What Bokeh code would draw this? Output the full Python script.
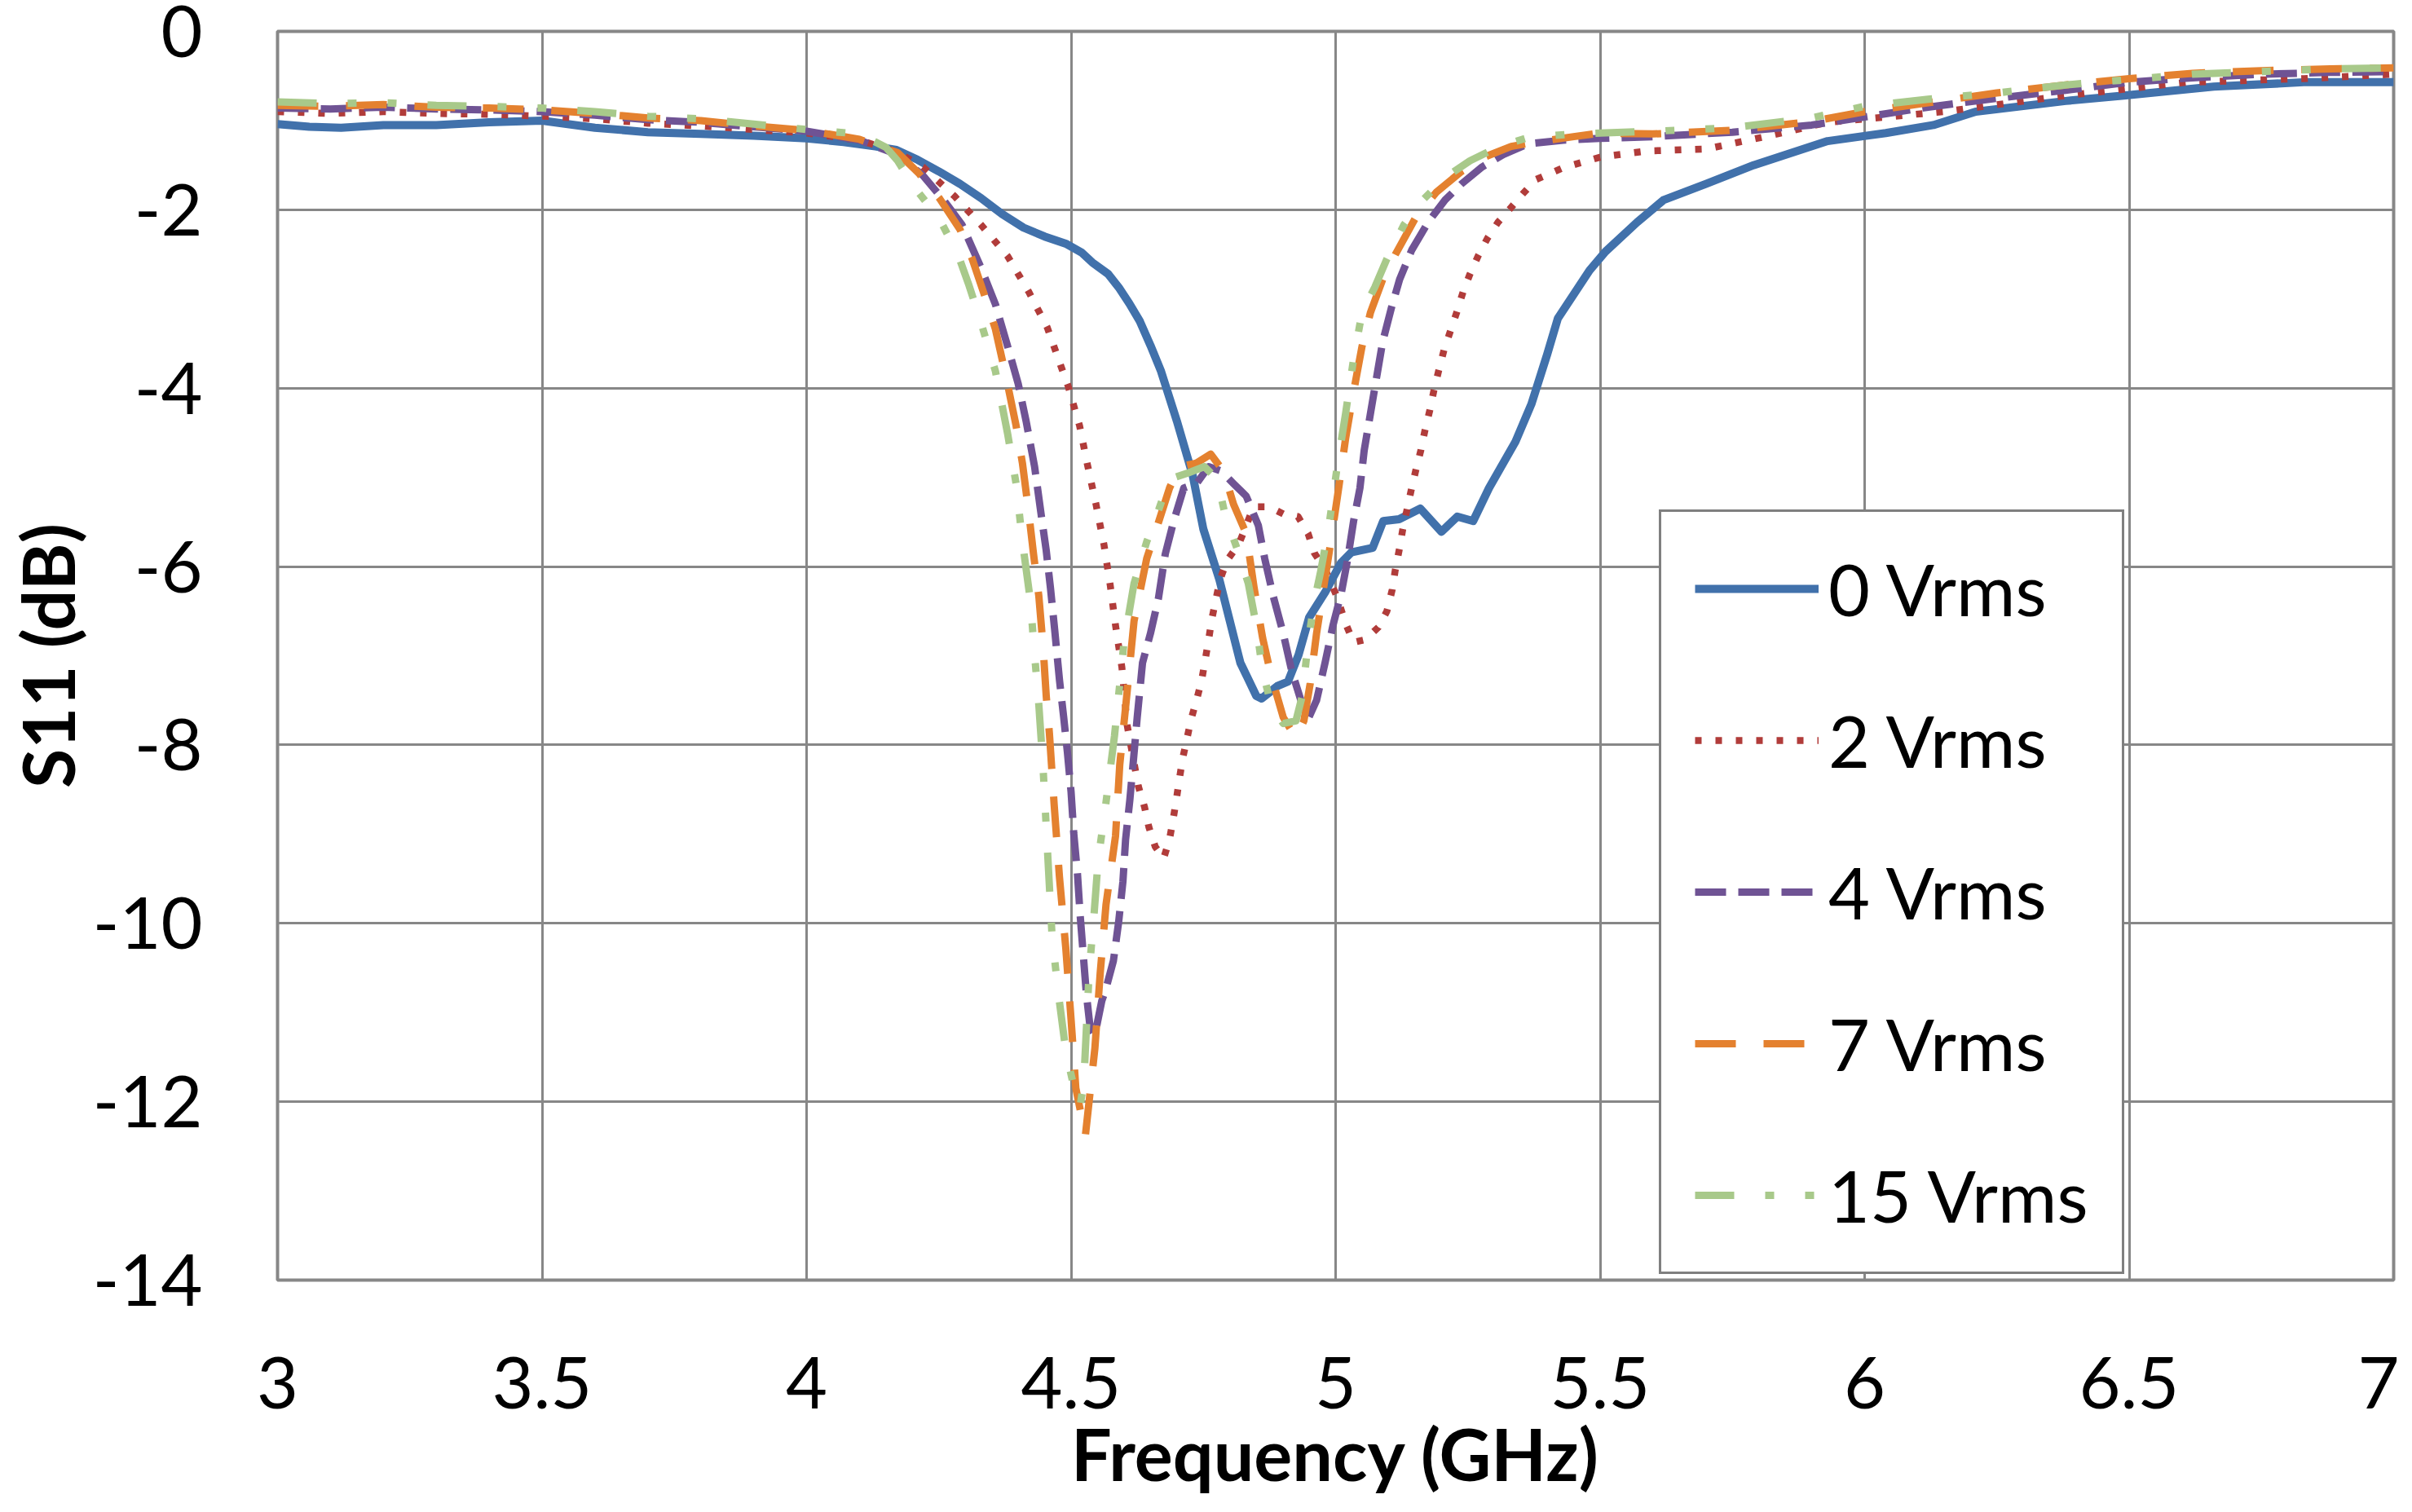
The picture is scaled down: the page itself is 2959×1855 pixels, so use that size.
from bokeh.plotting import figure
from bokeh.models import FixedTicker, Legend, LegendItem
from bokeh.embed import file_html
from bokeh.resources import INLINE

# ---------------- data ----------------
freq_0v = [3.00, 3.06, 3.12, 3.20, 3.30, 3.40, 3.50, 3.60, 3.70, 3.80, 3.90, 4.00,
           4.07, 4.13, 4.17, 4.21, 4.25, 4.29, 4.33, 4.37, 4.41, 4.45, 4.49, 4.52,
           4.54, 4.57, 4.59, 4.61, 4.63, 4.65, 4.67, 4.70, 4.73, 4.75, 4.78, 4.80,
           4.82, 4.85, 4.86, 4.89, 4.91, 4.93, 4.95, 4.98, 5.01, 5.03, 5.07, 5.09,
           5.12, 5.16, 5.20, 5.23, 5.26, 5.29, 5.34, 5.37, 5.40, 5.42, 5.48, 5.51,
           5.57, 5.62, 5.70, 5.79, 5.93, 6.04, 6.13, 6.21, 6.38, 6.49, 6.66, 6.83, 7.00]
s11_0v = [-1.04, -1.07, -1.08, -1.05, -1.05, -1.02, -1.00, -1.08, -1.13, -1.15, -1.17, -1.20,
          -1.24, -1.29, -1.33, -1.44, -1.57, -1.71, -1.87, -2.05, -2.20, -2.30, -2.38, -2.48,
          -2.59, -2.72, -2.87, -3.05, -3.25, -3.52, -3.81, -4.37, -4.98, -5.58, -6.14, -6.61,
          -7.08, -7.45, -7.48, -7.34, -7.29, -6.99, -6.57, -6.29, -5.96, -5.84, -5.79, -5.49,
          -5.47, -5.35, -5.61, -5.44, -5.49, -5.12, -4.60, -4.18, -3.62, -3.22, -2.68, -2.47,
          -2.14, -1.89, -1.71, -1.50, -1.23, -1.14, -1.05, -0.90, -0.78, -0.72, -0.62, -0.57, -0.57]

freq_2v = [3.00, 3.10, 3.20, 3.30, 3.40, 3.50, 3.60, 3.70, 3.80, 3.90, 4.00, 4.10,
           4.17, 4.22, 4.28, 4.33, 4.38, 4.42, 4.455, 4.48, 4.494, 4.516, 4.531, 4.547,
           4.562, 4.574, 4.584, 4.596, 4.606, 4.627, 4.639, 4.647, 4.659, 4.675, 4.686, 4.693,
           4.699, 4.705, 4.711, 4.727, 4.738, 4.747, 4.754, 4.760, 4.766, 4.774, 4.782, 4.795,
           4.817, 4.845, 4.874, 4.901, 4.929, 4.948, 4.960, 4.980, 5.002, 5.019, 5.034, 5.056,
           5.081, 5.097, 5.107, 5.113, 5.121, 5.127, 5.143, 5.152, 5.161, 5.169, 5.178, 5.186,
           5.195, 5.205, 5.217, 5.229, 5.241, 5.254, 5.270, 5.287, 5.307, 5.331, 5.354, 5.379,
           5.43, 5.50, 5.59, 5.70, 5.82, 5.93, 6.04, 6.15, 6.38, 6.61, 6.83, 7.00]
s11_2v = [-0.90, -0.92, -0.90, -0.92, -0.93, -0.95, -0.98, -1.03, -1.06, -1.10, -1.14, -1.22,
          -1.35, -1.52, -1.85, -2.17, -2.52, -2.92, -3.32, -3.74, -3.97, -4.42, -4.86, -5.30,
          -5.75, -6.21, -6.66, -7.13, -7.78, -8.46, -8.70, -8.92, -9.14, -9.27, -9.06, -8.83,
          -8.61, -8.37, -8.15, -7.71, -7.48, -7.27, -7.03, -6.82, -6.59, -6.36, -6.14, -5.93,
          -5.75, -5.33, -5.33, -5.41, -5.44, -5.63, -5.85, -6.03, -6.33, -6.64, -6.85, -6.82,
          -6.68, -6.50, -6.26, -6.03, -5.79, -5.58, -5.14, -4.91, -4.70, -4.47, -4.25, -4.02,
          -3.80, -3.57, -3.36, -3.15, -2.92, -2.72, -2.51, -2.32, -2.14, -1.98, -1.82, -1.66,
          -1.53, -1.41, -1.34, -1.32, -1.17, -1.02, -0.96, -0.90, -0.72, -0.57, -0.53, -0.48]

freq_4v = [3.00, 3.10, 3.20, 3.30, 3.40, 3.50, 3.60, 3.70, 3.80, 3.90, 4.00, 4.10,
           4.172, 4.219, 4.259, 4.294, 4.329, 4.357, 4.380, 4.400, 4.415, 4.431, 4.443, 4.453,
           4.461, 4.469, 4.478, 4.486, 4.493, 4.500, 4.505, 4.512, 4.517, 4.523, 4.529, 4.536,
           4.545, 4.558, 4.566, 4.580, 4.590, 4.598, 4.603, 4.611, 4.618, 4.625, 4.635, 4.650,
           4.665, 4.678, 4.694, 4.713, 4.737, 4.760, 4.784, 4.807, 4.831, 4.854, 4.866, 4.882,
           4.901, 4.917, 4.937, 4.948, 4.964, 4.980, 4.995, 5.011, 5.023, 5.034, 5.046, 5.054,
           5.066, 5.078, 5.089, 5.105, 5.121, 5.144, 5.176, 5.207, 5.238, 5.277, 5.317, 5.364,
           5.43, 5.50, 5.60, 5.75, 5.90, 6.00, 6.12, 6.25, 6.38, 6.50, 6.62, 6.75, 6.88, 7.00]
s11_4v = [-0.86, -0.87, -0.85, -0.87, -0.88, -0.90, -0.94, -0.99, -1.02, -1.07, -1.12, -1.22,
          -1.38, -1.61, -1.89, -2.17, -2.64, -3.06, -3.53, -3.95, -4.37, -4.88, -5.40, -5.82,
          -6.24, -6.71, -7.27, -7.69, -8.08, -8.53, -8.99, -9.44, -9.90, -10.35, -10.80, -11.17,
          -11.25, -10.87, -10.73, -10.42, -9.98, -9.53, -9.06, -8.62, -8.16, -7.69, -7.08, -6.75,
          -6.36, -5.86, -5.49, -5.12, -5.07, -4.88, -4.93, -5.07, -5.21, -5.54, -5.91, -6.33,
          -6.75, -7.17, -7.55, -7.71, -7.50, -7.08, -6.66, -6.29, -5.91, -5.49, -5.12, -4.70,
          -4.28, -3.86, -3.48, -3.11, -2.78, -2.45, -2.13, -1.89, -1.71, -1.52, -1.38, -1.26,
          -1.22, -1.20, -1.18, -1.13, -1.05, -0.96, -0.85, -0.75, -0.66, -0.57, -0.52, -0.48, -0.46, -0.45]

freq_7v = [3.00, 3.10, 3.20, 3.30, 3.40, 3.50, 3.60, 3.70, 3.80, 3.90, 4.00, 4.10,
           4.172, 4.212, 4.251, 4.290, 4.313, 4.337, 4.357, 4.378, 4.396, 4.408, 4.419, 4.429,
           4.439, 4.447, 4.453, 4.459, 4.468, 4.478, 4.490, 4.500, 4.509, 4.527, 4.545, 4.555,
           4.566, 4.584, 4.592, 4.604, 4.619, 4.643, 4.666, 4.686, 4.705, 4.737, 4.764, 4.788,
           4.807, 4.831, 4.846, 4.862, 4.878, 4.901, 4.925, 4.940, 4.952, 4.964, 4.976, 4.991,
           5.007, 5.019, 5.034, 5.050, 5.066, 5.089, 5.113, 5.152, 5.191, 5.238, 5.285, 5.332,
           5.379, 5.45, 5.50, 5.60, 5.75, 5.90, 6.00, 6.12, 6.25, 6.38, 6.50, 6.62, 6.75, 6.88, 7.00]
s11_7v = [-0.83, -0.84, -0.82, -0.85, -0.86, -0.88, -0.92, -0.97, -1.00, -1.06, -1.11, -1.21,
          -1.36, -1.59, -1.87, -2.22, -2.55, -2.97, -3.34, -3.90, -4.42, -4.84, -5.35, -5.86,
          -6.33, -6.89, -7.45, -7.87, -8.67, -9.48, -10.28, -11.08, -11.85, -12.38, -11.40, -10.56,
          -9.79, -9.02, -8.22, -7.52, -6.61, -5.91, -5.49, -5.12, -4.88, -4.84, -4.74, -4.93,
          -5.30, -5.63, -6.24, -6.80, -7.22, -7.69, -7.92, -7.73, -7.31, -6.75, -6.29, -5.72,
          -5.07, -4.56, -4.04, -3.53, -3.15, -2.78, -2.50, -2.08, -1.80, -1.57, -1.40, -1.29,
          -1.24, -1.18, -1.14, -1.15, -1.11, -1.01, -0.90, -0.80, -0.69, -0.60, -0.53, -0.47, -0.44, -0.42, -0.41]

freq_15v = [3.00, 3.10, 3.20, 3.30, 3.40, 3.50, 3.60, 3.70, 3.80, 3.90, 4.00, 4.10,
            4.15, 4.172, 4.204, 4.251, 4.286, 4.306, 4.329, 4.357, 4.380, 4.396, 4.408, 4.423,
            4.431, 4.439, 4.447, 4.453, 4.464, 4.476, 4.490, 4.510, 4.517, 4.524, 4.534, 4.543,
            4.551, 4.565, 4.582, 4.600, 4.619, 4.643, 4.658, 4.686, 4.721, 4.752, 4.776, 4.792,
            4.815, 4.835, 4.850, 4.862, 4.878, 4.901, 4.925, 4.937, 4.948, 4.960, 4.972, 4.987,
            5.003, 5.019, 5.034, 5.050, 5.074, 5.097, 5.129, 5.160, 5.207, 5.254, 5.309, 5.364,
            5.45, 5.50, 5.60, 5.75, 5.90, 6.00, 6.12, 6.25, 6.38, 6.50, 6.62, 6.75, 6.88, 7.00]
s11_15v = [-0.79, -0.81, -0.80, -0.83, -0.84, -0.86, -0.90, -0.95, -0.98, -1.04, -1.10, -1.15,
           -1.30, -1.45, -1.75, -2.10, -2.50, -2.83, -3.25, -3.81, -4.51, -5.07, -5.72, -6.38,
           -6.99, -7.55, -8.25, -8.92, -10.14, -10.79, -11.43, -11.96, -12.05, -11.78, -10.56, -9.93,
           -9.30, -8.69, -7.90, -6.85, -6.19, -5.72, -5.49, -5.02, -4.95, -4.88, -5.02, -5.44,
           -5.82, -6.19, -6.66, -7.17, -7.55, -7.76, -7.73, -7.45, -6.85, -6.38, -6.05, -5.56,
           -4.88, -4.28, -3.67, -3.15, -2.87, -2.55, -2.17, -1.92, -1.64, -1.45, -1.29, -1.19,
           -1.15, -1.14, -1.12, -1.08, -0.97, -0.84, -0.76, -0.69, -0.60, -0.54, -0.48, -0.45, -0.42, -0.41]

series_labels = ["0 Vrms", "2 Vrms", "4 Vrms", "7 Vrms", "15 Vrms"]
x_ticks = [3, 3.5, 4, 4.5, 5, 5.5, 6, 6.5, 7]
x_tick_labels = ["3", "3.5", "4", "4.5", "5", "5.5", "6", "6.5", "7"]
y_ticks = [0, -2, -4, -6, -8, -10, -12, -14]
y_tick_labels = ["0", "-2", "-4", "-6", "-8", "-10", "-12", "-14"]
x_title = "Frequency (GHz)"
y_title = "S11 (dB)"

# ---------------- styles ----------------
colors = ["#4171AB", "#B13C3A", "#6F5394", "#E4812F", "#A8C98A"]
dashes = ["solid", "8 17", "38 15", "50 34", "48 38 11 38 11 38"]
widths = [10, 8.5, 9, 9, 9]

FONT = "Lato"
GRID = "#878787"

p = figure(width=2943, height=1839, x_range=(3, 7), y_range=(-14, 0),
           output_backend="svg", toolbar_location=None,
           min_border_left=340, min_border_right=7,
           min_border_top=38, min_border_bottom=269)
p.background_fill_color = "white"
p.border_fill_color = "white"
p.outline_line_color = GRID
p.outline_line_width = 4

renderers = []
series = [(freq_0v, s11_0v), (freq_2v, s11_2v), (freq_4v, s11_4v),
          (freq_7v, s11_7v), (freq_15v, s11_15v)]
for (fx, sy), c, d, w in zip(series, colors, dashes, widths):
    r = p.line(fx, sy, line_color=c, line_width=w, line_dash=d,
               line_join="round", line_cap="butt")
    renderers.append(r)

# axes
p.xaxis.ticker = FixedTicker(ticks=x_ticks)
p.yaxis.ticker = FixedTicker(ticks=y_ticks)
p.xaxis.major_label_overrides = {t: l for t, l in zip(x_ticks, x_tick_labels)}
p.yaxis.major_label_overrides = {t: l for t, l in zip(y_ticks, y_tick_labels)}
for ax in (p.xaxis, p.yaxis):
    ax.axis_line_color = None
    ax.major_tick_line_color = None
    ax.minor_tick_line_color = None
    ax.major_label_text_font = FONT
    ax.major_label_text_font_size = "88px"
    ax.major_label_text_color = "black"
    ax.axis_label_text_font = FONT
    ax.axis_label_text_font_style = "bold"
    ax.axis_label_text_font_size = "88px"
    ax.axis_label_text_color = "black"
p.xaxis.axis_label = x_title
p.yaxis.axis_label = y_title
p.xaxis.major_label_standoff = 88
p.xaxis.axis_label_standoff = -1
p.yaxis.major_label_standoff = 86
p.yaxis.axis_label_standoff = 0

# grid
p.xgrid.ticker = FixedTicker(ticks=x_ticks)
p.ygrid.ticker = FixedTicker(ticks=y_ticks)
for g in (p.xgrid, p.ygrid):
    g.grid_line_color = GRID
    g.grid_line_width = 3

# legend
items = [LegendItem(label=l, renderers=[r]) for l, r in zip(series_labels, renderers)]
legend = Legend(items=items, location=(1695, 7))
legend.label_text_font = FONT
legend.label_text_font_size = "88px"
legend.label_text_color = "black"
legend.glyph_width = 152
legend.glyph_height = 106
legend.label_height = 106
legend.label_standoff = 12
legend.spacing = 80
legend.padding = 41
legend.margin = 0
legend.border_line_color = "black"
legend.border_line_width = 3.5
legend.background_fill_color = "white"
legend.background_fill_alpha = 1.0
p.add_layout(legend)

open("out.html", "w").write(file_html(p, INLINE))
